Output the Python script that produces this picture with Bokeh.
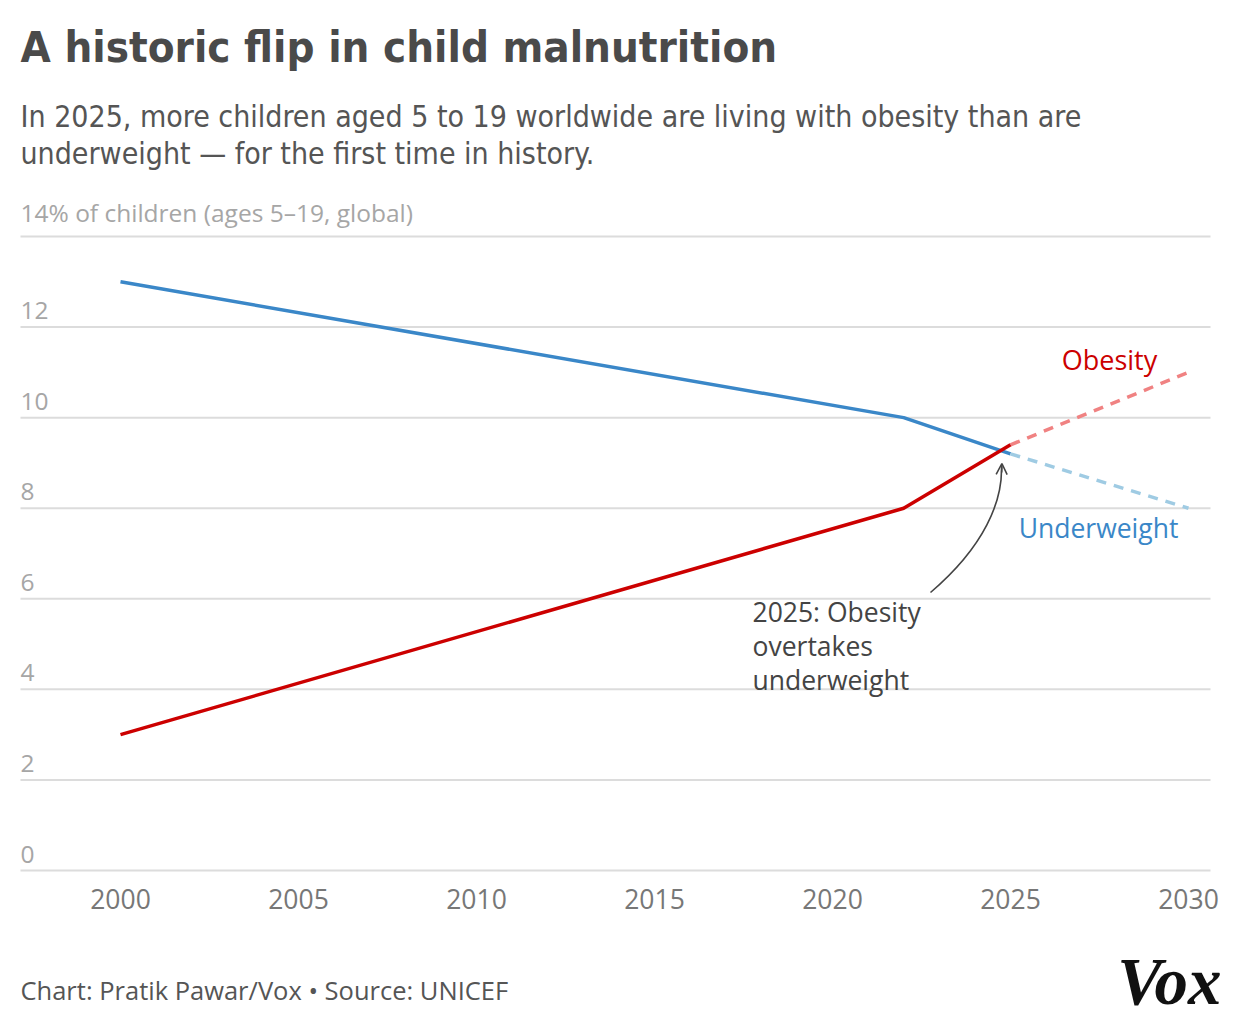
from bokeh.plotting import figure
from bokeh.models import Range1d, Label, Arrow, OpenHead
from bokeh.embed import file_html
from bokeh.resources import INLINE

# ---- data ----
years_hist = [2000, 2022, 2025]
underweight_hist = [13.0, 10.0, 9.2]
obesity_hist = [3.0, 8.0, 9.4]
years_proj = [2025, 2030]
underweight_proj = [9.2, 8.0]
obesity_proj = [9.4, 11.0]
x_ticks = [2000, 2005, 2010, 2015, 2020, 2025, 2030]
x_tick_labels = ["2000", "2005", "2010", "2015", "2020", "2025", "2030"]
y_ticks = [0, 2, 4, 6, 8, 10, 12, 14]
y_tick_labels = ["0", "2", "4", "6", "8", "10", "12", "14% of children (ages 5\u201319, global)"]

W, H = 1240, 1026
GL, GR, GT, GB = 20, 1210, 236, 870
PX_2000, PX_2030 = 120, 1188
ppy = (PX_2030 - PX_2000) / 30.0
ppu = (GB - GT) / 14.0
X0 = 2000 - PX_2000 / ppy
X1 = 2030 + (W - PX_2030) / ppy
Y0 = -(H - GB) / ppu
Y1 = GB / ppu

def dx(px):
    return X0 + px / ppy

def dy(py):
    return (GB - py) / ppu

COND = "DejaVu Sans Condensed, Roboto, sans-serif"

p = figure(width=W, height=H, x_range=Range1d(X0, X1), y_range=Range1d(Y0, Y1),
           output_backend="svg", toolbar_location=None,
           min_border_left=0, min_border_right=0, min_border_top=0, min_border_bottom=0)
p.frame_width = W
p.frame_height = H
p.outline_line_color = None
p.background_fill_color = "white"
p.border_fill_color = "white"
p.xgrid.visible = False
p.ygrid.visible = False
p.xaxis.visible = False
p.yaxis.visible = False

# horizontal gridlines
p.segment(x0=[dx(GL)] * len(y_ticks), x1=[dx(GR)] * len(y_ticks), y0=y_ticks, y1=y_ticks,
          line_color="#dcdcdc", line_width=2)

for t, lab in zip(y_ticks, y_tick_labels):
    p.add_layout(Label(x=dx(GL), y=t, text=lab, y_offset=8,
                       text_font="Open Sans", text_font_size="24.5px",
                       text_color="#a6a6a6", text_align="left", text_baseline="bottom"))

for t, lab in zip(x_ticks, x_tick_labels):
    p.add_layout(Label(x=t, y=dy(898), text=lab,
                       text_font="Open Sans", text_font_size="26.5px",
                       text_color="#777777", text_align="center", text_baseline="middle"))

blue = "#3a87c8"
red = "#cc0000"
p.line(years_hist, underweight_hist, line_color=blue, line_width=3.5)
p.line(years_proj, underweight_proj, line_color="#9fcbe3", line_width=3.5, line_dash="10 8")
p.line(years_proj, obesity_proj, line_color="#f08282", line_width=3.5, line_dash="10 8")
p.line(years_hist, obesity_hist, line_color=red, line_width=3.5)

p.add_layout(Label(x=dx(1109), y=dy(359), text="Obesity", text_font="Open Sans",
                   text_font_size="27px", text_color=red, text_align="center",
                   text_baseline="middle"))
p.add_layout(Label(x=dx(1098), y=dy(527), text="Underweight", text_font="Open Sans",
                   text_font_size="26.5px", text_color=blue, text_align="center",
                   text_baseline="middle"))

for i, line in enumerate(["2025: Obesity", "overtakes", "underweight"]):
    p.add_layout(Label(x=dx(752), y=dy(611 + 34 * i), text=line, text_font="Open Sans",
                       text_font_size="26.5px", text_color="#444444", text_align="left",
                       text_baseline="middle"))

p.bezier(x0=[dx(930)], y0=[dy(592)], x1=[dx(1001)], y1=[dy(466)],
         cx0=[dx(985)], cy0=[dy(545)], cx1=[dx(1002)], cy1=[dy(500)],
         line_color="#444444", line_width=1.6)
p.add_layout(Arrow(x_start=dx(1001.2), y_start=dy(472), x_end=dx(1001.4), y_end=dy(463),
                   end=OpenHead(size=11, line_color="#444444", line_width=1.6),
                   line_color="#444444", line_width=1.6))

p.add_layout(Label(x=dx(20), y=dy(46), text="A historic flip in child malnutrition",
                   text_font=COND, text_font_style="bold",
                   text_font_size="43.5px", text_color="#4a4a4a", text_align="left",
                   text_baseline="middle"))
p.add_layout(Label(x=dx(20), y=dy(116),
                   text="In 2025, more children aged 5 to 19 worldwide are living with obesity than are",
                   text_font=COND, text_font_size="30px",
                   text_color="#555555", text_align="left", text_baseline="middle"))
p.add_layout(Label(x=dx(20), y=dy(153),
                   text="underweight \u2014 for the first time in history.",
                   text_font=COND, text_font_size="30px",
                   text_color="#555555", text_align="left", text_baseline="middle"))
p.add_layout(Label(x=dx(20), y=dy(989),
                   text="Chart: Pratik Pawar/Vox \u2022 Source: UNICEF",
                   text_font="Open Sans", text_font_size="25.5px",
                   text_color="#555555", text_align="left", text_baseline="middle"))
p.add_layout(Label(x=dx(1221), y=dy(980), text="Vox",
                   text_font="Liberation Serif", text_font_style="bold italic",
                   text_font_size="67px", text_color="#111111", text_align="right",
                   text_baseline="middle"))

open("out.html", "w").write(file_html(p, INLINE))
